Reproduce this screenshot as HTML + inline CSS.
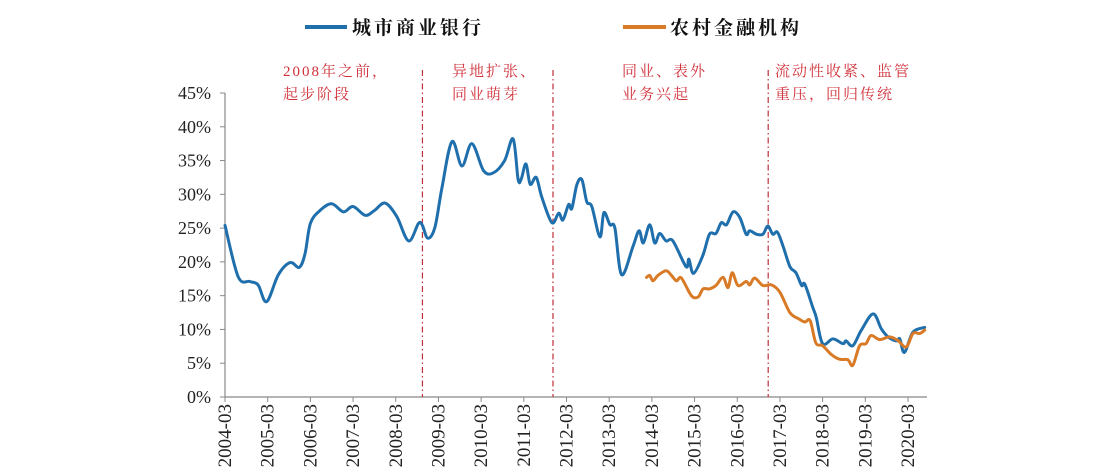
<!DOCTYPE html>
<html><head><meta charset="utf-8"><style>
html,body{margin:0;padding:0;background:#fff;width:1117px;height:474px;overflow:hidden}
svg{display:block}
.cjk{font-family:"Liberation Serif","Noto Serif CJK SC","Noto Sans CJK SC",serif}
.ser{font-family:"Liberation Serif",serif}
</style></head><body>
<svg id="chart" width="1117" height="474">
  <g>
    <line x1="305" y1="27" x2="347" y2="27" stroke="#1f6fad" stroke-width="4"/>
    <text x="352" y="34" class="cjk" font-size="19" font-weight="bold" letter-spacing="3" fill="#111">城市商业银行</text>
    <line x1="623" y1="27" x2="666" y2="27" stroke="#d97a26" stroke-width="4"/>
    <text x="670" y="34" class="cjk" font-size="19" font-weight="bold" letter-spacing="3" fill="#111">农村金融机构</text>
  </g>
  <g fill="#d0303a" font-size="15" class="cjk" letter-spacing="2">
    <text x="283" y="76">2008年之前，</text>
    <text x="283" y="99">起步阶段</text>
    <text x="452" y="76">异地扩张、</text>
    <text x="452" y="99">同业萌芽</text>
    <text x="622" y="76">同业、表外</text>
    <text x="622" y="99">业务兴起</text>
    <text x="775" y="76">流动性收紧、监管</text>
    <text x="775" y="99">重压，回归传统</text>
  </g>
  <g id="plot"></g>
</svg>
<script>
const yTicks=[0,5,10,15,20,25,30,35,40,45];
const xTickLabels=["2004-03","2005-03","2006-03","2007-03","2008-03","2009-03","2010-03","2011-03","2012-03","2013-03","2014-03","2015-03","2016-03","2017-03","2018-03","2019-03","2020-03"];
const phaseBreaks=[55.5,92.2,152.7];
// months since 2004-03
const cityMonths=[0,3.7,7,9.3,11.7,15,18.3,20.9,22.5,24,26.7,30,33.3,36,39.4,42,45,48.3,51.6,54.4,55.5,57,59,61,63.8,66.6,69.4,72.7,75.5,78.6,81,82.4,83.3,84.6,85.8,87.5,89.1,91.9,93.8,95,96.6,97.5,98.9,100.3,101.7,103.1,105.4,106.5,108.2,109.6,111.5,114.7,116.4,117.6,119.4,120.8,122.2,124,125.9,129.6,130.4,131.7,134.3,136.2,138,139.5,141,142.8,144.7,146.5,147.5,149.4,151.2,152.6,154,155.3,156.9,158.8,160.5,162.1,163,165.2,166.2,168,170.9,173.7,174.6,176.5,178.9,182.2,184.5,186.4,188.7,189.7,191,193.4,196.7];
const cityValues=[25.4,17.8,17.1,16.6,14.1,18.1,19.9,19.2,21.2,25.7,27.6,28.6,27.4,28.2,26.9,27.6,28.7,26.7,23.1,25.7,25.4,23.5,25.1,31,37.8,34.2,37.5,33.5,33.2,35,38.2,32.2,32.3,34.5,31.5,32.5,29.5,25.8,27.2,26.2,28.5,27.9,31.4,32.2,28.9,28.2,23.7,27.3,25.5,25,18.1,22.3,24.6,22.8,25.5,22.8,24.2,23.1,23.1,19.3,20.4,18.3,20.9,24.1,24.2,25.8,25.5,27.4,26.6,24.1,24.6,24.1,24.1,25.3,24.1,24.4,22.3,19.3,18.4,16.5,16.7,13.3,11.8,7.9,8.6,7.9,8.3,7.6,9.9,12.3,10.1,8.9,8.3,8.6,6.6,9.6,10.3];
const ruralMonths=[118.5,119.4,120.3,121.7,124,125.5,126.9,128.3,131.1,133,134.4,136.2,138,140,141.4,142.6,144.2,146.5,147.5,148.9,151.2,153.6,156,158.8,161.2,163,164.5,166.1,168,170.4,172.7,175.1,176.5,178.4,180.2,181.6,184,186.8,189.1,191.5,193.4,195.3,196.7];
const ruralValues=[17.7,18,17.2,18,18.7,18,17.2,17.6,15,14.8,16,16,16.5,17.7,16.2,18.4,16.5,17.1,16.6,17.6,16.5,16.6,15.5,12.5,11.6,11.1,11.3,8,7.6,6.3,5.6,5.5,4.7,7.6,7.9,9.1,8.5,8.9,8.4,7.4,9.4,9.4,9.9];

const X0=225,PX_PER_MONTH=(908-225)/192,Y0=397,Y1=93,YMAX=45,XEND=927;
const xs=m=>X0+m*PX_PER_MONTH;
const ys=v=>Y0-(v/YMAX)*(Y0-Y1);
const NS="http://www.w3.org/2000/svg";
const plot=document.getElementById('plot');
function mk(t,a,p){const e=document.createElementNS(NS,t);for(const k in a)e.setAttribute(k,a[k]);(p||plot).appendChild(e);return e;}

const yAxis=mk('g',{});


mk('line',{x1:X0,y1:Y1,x2:X0,y2:Y0,stroke:'#888','stroke-width':1.2},yAxis);
yTicks.forEach(v=>{
  const tk=mk('line',{x1:X0-5,y1:ys(v),x2:X0,y2:ys(v),stroke:'#888','stroke-width':1},yAxis);
  
  
  const t=mk('text',{x:X0-14,y:ys(v)+6,'text-anchor':'end','font-size':18,class:'ser',fill:'#222'},yAxis);
  t.textContent=v+'%';
  
  
});
const xAxis=mk('g',{});


mk('line',{x1:X0,y1:Y0,x2:XEND,y2:Y0,stroke:'#888','stroke-width':1.2},xAxis);
xTickLabels.forEach((lab,i)=>{
  const x=xs(i*12);
  const tk=mk('line',{x1:x,y1:Y0,x2:x,y2:Y0+5,stroke:'#888','stroke-width':1},xAxis);
  
  
  const t=mk('text',{x:0,y:0,'text-anchor':'end','font-size':19,class:'ser',fill:'#222',transform:`translate(${x+6},${Y0+7}) rotate(-90)`},xAxis);
  t.textContent=lab;
  
  
});
phaseBreaks.forEach(m=>{
  const l=mk('line',{x1:xs(m),y1:70,x2:xs(m),y2:Y0,stroke:'#c0303a','stroke-width':1.2,'stroke-dasharray':'6,3,1.5,3'});
  
  
});
function series(ms,vs,color,name){
  const P=ms.map((m,i)=>[xs(m),ys(vs[i])]);
  let d='M'+P[0][0].toFixed(1)+','+P[0][1].toFixed(1);
  for(let i=0;i<P.length-1;i++){
    const p0=P[i-1]||P[i],p1=P[i],p2=P[i+1],p3=P[i+2]||p2,k=1/6;
    const c1=[p1[0]+(p2[0]-p0[0])*k,p1[1]+(p2[1]-p0[1])*k];
    const c2=[p2[0]-(p3[0]-p1[0])*k,p2[1]-(p3[1]-p1[1])*k];
    d+=` C${c1[0].toFixed(1)},${c1[1].toFixed(1)} ${c2[0].toFixed(1)},${c2[1].toFixed(1)} ${p2[0].toFixed(1)},${p2[1].toFixed(1)}`;
  }
  const p=mk('path',{d:d,fill:'none',stroke:color,'stroke-width':3,'stroke-linejoin':'round','stroke-linecap':'round'});
  
  
}
series(cityMonths,cityValues,'#1f6fad','line-city-banks');
series(ruralMonths,ruralValues,'#d97a26','line-rural-financial');
</script>
</body></html>
